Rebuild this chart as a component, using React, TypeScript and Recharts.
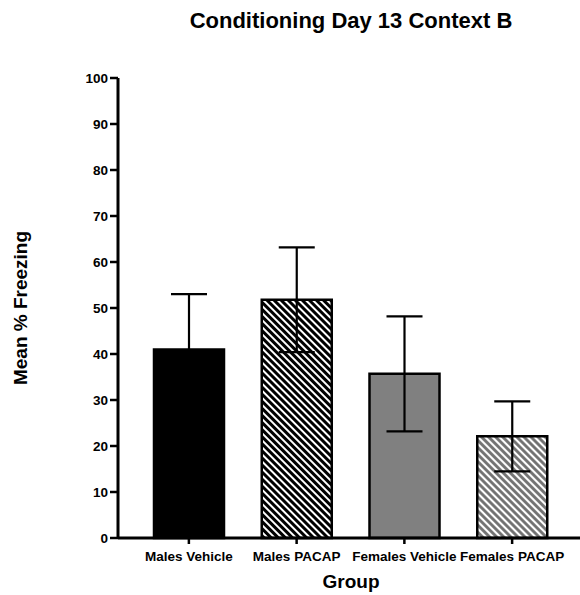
import { BarChart, Bar, XAxis, YAxis, ErrorBar, Cell } from "recharts";

const groups = ["Males Vehicle", "Males PACAP", "Females Vehicle", "Females PACAP"];
const meanFreezing = [41.0, 51.8, 35.7, 22.1];
const semFreezing = [12.0, 11.4, 12.5, 7.6];
const yTicks = [0, 10, 20, 30, 40, 50, 60, 70, 80, 90, 100];

const fills = ["#000000", "url(#hatchBlack)", "#808080", "url(#hatchGray)"];

const data = groups.map((name, i) => ({
  name,
  mean: meanFreezing[i],
  sem: semFreezing[i],
}));

const font = "'Liberation Sans', Arial, sans-serif";

const App = () => {
  return (
    <div style={{ position: "absolute", left: 0, top: 0, width: 580, height: 595, fontFamily: font }}>
      <div
        style={{
          position: "absolute",
          left: 0,
          width: 702,
          top: 10,
          fontSize: 22,
          lineHeight: "21px",
          fontWeight: "bold",
          textAlign: "center",
          whiteSpace: "nowrap",
        }}
      >
        Conditioning Day 13 Context B
      </div>
      <BarChart
        width={580}
        height={595}
        data={data}
        margin={{ top: 78, right: 0, left: 0, bottom: 27 }}
        barSize={70}
      >
        <defs>
          <pattern id="hatchBlack" patternUnits="userSpaceOnUse" width={5} height={5} patternTransform="rotate(-45)">
            <rect width={5} height={5} fill="#fff" />
            <line x1={1.5} y1={0} x2={1.5} y2={5} stroke="#000" strokeWidth={3} />
          </pattern>
          <pattern id="hatchGray" patternUnits="userSpaceOnUse" width={5} height={5} patternTransform="rotate(-45)">
            <rect width={5} height={5} fill="#fff" />
            <line x1={1.5} y1={0} x2={1.5} y2={5} stroke="#6e6e6e" strokeWidth={2.8} />
          </pattern>
        </defs>
        <XAxis
          dataKey="name"
          height={30}
          padding={{ left: 17, right: 14 }}
          axisLine={{ stroke: "#000", strokeWidth: 3 }}
          tickLine={{ stroke: "#000", strokeWidth: 2.5 }}
          tickSize={6}
          tickMargin={7}
          interval={0}
          tick={{ fill: "#000", fontSize: 13.5, fontWeight: "bold", fontFamily: font }}
        />
        <YAxis
          width={118}
          domain={[0, 100]}
          ticks={yTicks}
          interval={0}
          axisLine={{ stroke: "#000", strokeWidth: 3 }}
          tickLine={{ stroke: "#000", strokeWidth: 2.5 }}
          tickSize={8}
          tickMargin={2}
          tick={{ fill: "#000", fontSize: 13.5, fontWeight: "bold", fontFamily: font }}
        />
        <Bar dataKey="mean" stroke="#000" strokeWidth={2.5} isAnimationActive={false}>
          {data.map((d, i) => (
            <Cell key={d.name} fill={fills[i]} />
          ))}
          <ErrorBar
            dataKey="sem"
            direction="y"
            width={18}
            stroke="#000"
            strokeWidth={2.2}
            isAnimationActive={false}
          />
        </Bar>
      </BarChart>
      <div
        style={{
          position: "absolute",
          left: 0,
          width: 702,
          top: 572,
          fontSize: 19,
          lineHeight: "19px",
          fontWeight: "bold",
          textAlign: "center",
        }}
      >
        Group
      </div>
      <div
        style={{
          position: "absolute",
          left: 20,
          top: 308,
          fontSize: 19,
          lineHeight: "19px",
          fontWeight: "bold",
          whiteSpace: "nowrap",
          transform: "translate(-50%, -50%) rotate(-90deg)",
        }}
      >
        Mean % Freezing
      </div>
    </div>
  );
};

export default App;
